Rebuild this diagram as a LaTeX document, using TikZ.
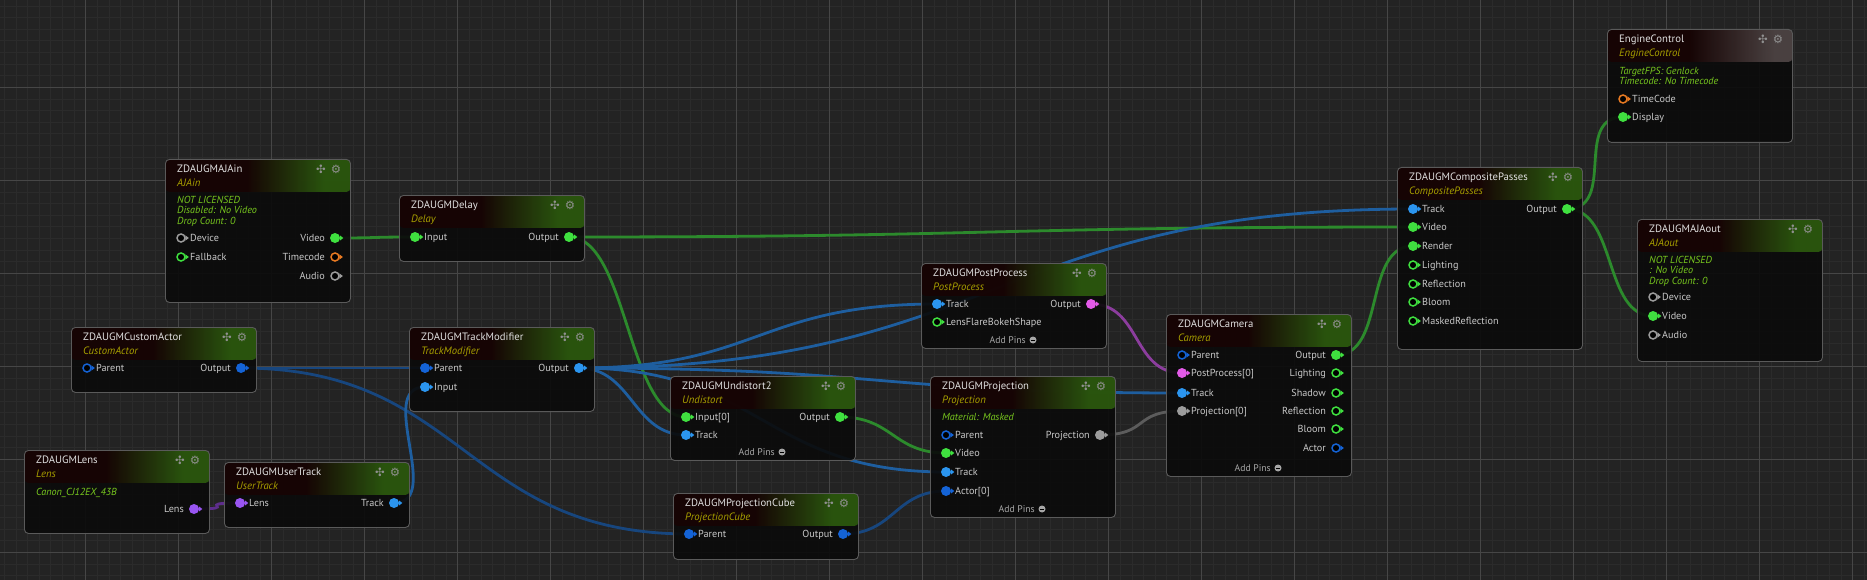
\documentclass[tikz,border=0pt]{standalone}
\usepackage{fontspec}
\setmainfont{PT Sans}
\newfontfamily\symfont{DejaVu Sans}
\usetikzlibrary{calc}

\definecolor{bgcol}{HTML}{232323}
\definecolor{gridminor}{HTML}{2B2B2B}
\definecolor{gridmajor}{HTML}{464646}
\definecolor{bodycol}{HTML}{0B0B0B}
\definecolor{bordcol}{HTML}{5A5A5A}
\definecolor{ttlcol}{HTML}{E0E0E0}
\definecolor{subcol}{HTML}{A8A000}
\definecolor{infocol}{HTML}{78C81E}
\definecolor{labcol}{HTML}{C8C8C8}
\definecolor{iconcol}{HTML}{909090}
\definecolor{addcol}{HTML}{A6A6A6}
\definecolor{hdrA}{HTML}{170404}
\definecolor{hdrB}{HTML}{2C5A0E}
\definecolor{hdrC}{HTML}{4F4545}
\definecolor{pgreen}{HTML}{3FE03F}
\definecolor{plblue}{HTML}{2B95EF}
\definecolor{pdblue}{HTML}{1463D6}
\definecolor{ppurple}{HTML}{9955F2}
\definecolor{pmagenta}{HTML}{E35AE8}
\definecolor{pgrey}{HTML}{9C9C9C}
\definecolor{porange}{HTML}{E87A22}
\definecolor{wgreen}{HTML}{2C8A2C}
\definecolor{wlblue}{HTML}{1E5E9F}
\definecolor{wdblue}{HTML}{17467E}
\definecolor{wpurple}{HTML}{5D2D8C}
\definecolor{wmagenta}{HTML}{8C3D9E}
\definecolor{wgrey}{HTML}{5C5C5C}

\pgfdeclarehorizontalshading{hdrgreen}{100bp}{color(0bp)=(hdrA); color(47bp)=(hdrA); color(68bp)=(hdrB); color(100bp)=(hdrB)}
\pgfdeclarehorizontalshading{hdrgrey}{100bp}{color(0bp)=(hdrA); color(47bp)=(hdrA); color(70bp)=(hdrC); color(100bp)=(hdrC)}

\pgfdeclarelayer{grid}
\pgfdeclarelayer{wires}
\pgfsetlayers{grid,wires,main}

\tikzstyle{blockbody} = [rectangle, anchor=north west,
minimum width=185pt,
inner sep=0pt,
rounded corners=4pt,
draw=bordcol, line width=0.9pt,
fill=bodycol, fill opacity=0.92]
\tikzstyle{ttl} = [anchor=base west, inner sep=0pt, text=ttlcol, font=\fontsize{10.7}{12}\selectfont]
\tikzstyle{sub} = [anchor=base west, inner sep=0pt, text=subcol, font=\fontsize{10.7}{12}\selectfont\itshape]
\tikzstyle{info} = [anchor=base west, inner sep=0pt, text=infocol, font=\fontsize{10.2}{10}\selectfont\itshape]
\tikzstyle{pinlabel} = [inner sep=0pt, text=labcol, font=\fontsize{10.2}{12}\selectfont]
\tikzstyle{icon} = [inner sep=0pt, text=iconcol, font=\symfont\fontsize{11.5}{12}\selectfont]
\tikzstyle{addtext} = [inner sep=0pt, text=addcol, font=\fontsize{9.7}{11}\selectfont]
\tikzstyle{addicon} = [circle, fill=addcol, minimum size=7pt, inner sep=0pt,
path picture={\draw[black, line width=1pt] ([xshift=-2pt]path picture bounding box.center) -- ([xshift=2pt]path picture bounding box.center);}]

\tikzset{
  hdr/.style={path picture={\shade[shading=#1] (path picture bounding box.north west) rectangle ([yshift=-32.5pt]path picture bounding box.north east);}},
  pinfull/.style={circle, fill=#1, minimum size=10pt, inner sep=0pt},
  pinring/.style={circle, draw=#1, line width=1.5pt, fill=black, minimum size=8pt, inner sep=0pt},
  wire/.style={line width=2.8pt, draw=#1, line cap=round,
    to path={let \p1=(\tikztostart), \p2=(\tikztotarget), \n1={max(0.5*abs(\x2-\x1),50)} in
      .. controls ([xshift=\n1]\tikztostart) and ([xshift=-\n1]\tikztotarget) .. (\tikztotarget)}}
}

% block: name, x, y, height, title, subtitle, header shading
\newcommand{\block}[7]{%
  \node[blockbody, minimum height=#4pt, hdr=#7] (#1) at (#2,#3) {};
  \node[ttl] (#1-title) at (#2+12,#3+13.8) {#5};
  \node[sub] (#1-sub) at (#2+12,#3+27.6) {#6};
  \node[icon] (#1-move) at (#2+156,#3+10) {✣};
  \node[icon] (#1-gear) at (#2+171,#3+10) {⚙};
}
% info lines: x, y of first line, list
\newcommand{\info}[3]{%
  \foreach \t [count=\i from 0] in {#3}
    \node[info] at (#1+12,#2+3.6+10.3*\i) {\t};
}
% pins: name, block x, y, full/ring, colour, label
\newcommand{\pinL}[6]{%
  \node[pin#4=#5] (#1) at (#2+16,#3) {};
  \fill[#5] ([xshift=-0.3pt,yshift=2.6pt]#1.east) -- ++(3.4pt,-2.6pt) -- ++(-3.4pt,-2.6pt) -- cycle;
  \node[pinlabel, anchor=base west] at (#2+25,#3+3.6) {#6};
}
\newcommand{\pinR}[6]{%
  \node[pin#4=#5] (#1) at (#2+170,#3) {};
  \fill[#5] ([xshift=-0.3pt,yshift=2.6pt]#1.east) -- ++(3.4pt,-2.6pt) -- ++(-3.4pt,-2.6pt) -- cycle;
  \node[pinlabel, anchor=base east] at (#2+160,#3+3.6) {#6};
}
% add pins: name, block x, y
\newcommand{\addpins}[3]{%
  \node[addtext, anchor=base east] (#1-add) at (#2+105,#3+3.3) {Add Pins};
  \node[addicon] (#1-addicon) at (#2+112,#3) {};
}

\begin{document}
\begin{tikzpicture}[x=1pt,y=-1pt]

\useasboundingbox (0,0) rectangle (1867,580);

\begin{pgfonlayer}{grid}
\fill[bgcol] (0,0) rectangle (1867,580);
\begin{scope}
\clip (0,0) rectangle (1867,580);
\begin{scope}[shift={(85.7,87.3)}]
\draw[gridminor, line width=0.8pt, step=11.625pt] (-93,-93) grid (1800,500);
\draw[gridmajor, line width=0.9pt, step=93pt] (-93,-93) grid (1800,500);
\end{scope}
\end{scope}
\end{pgfonlayer}

% inputs
\block{ajain}{165}{159}{143}{ZDAUGMAJAin}{AJAin}{hdrgreen}
\info{165}{200}{NOT LICENSED, Disabled: No Video, Drop Count: 0}
\pinL{ajain-device}{165}{238}{ring}{pgrey}{Device}
\pinL{ajain-fallback}{165}{257}{ring}{pgreen}{Fallback}
\pinR{ajain-video}{165}{238}{full}{pgreen}{Video}
\pinR{ajain-timecode}{165}{257}{ring}{porange}{Timecode}
\pinR{ajain-audio}{165}{276}{ring}{pgrey}{Audio}

\block{delay}{399}{195}{66}{ZDAUGMDelay}{Delay}{hdrgreen}
\pinL{delay-input}{399}{237}{full}{pgreen}{Input}
\pinR{delay-output}{399}{237}{full}{pgreen}{Output}

\block{ca}{71}{327}{65}{ZDAUGMCustomActor}{CustomActor}{hdrgreen}
\pinL{ca-parent}{71}{368}{ring}{pdblue}{Parent}
\pinR{ca-output}{71}{368}{full}{pdblue}{Output}

\block{tm}{409}{327}{84}{ZDAUGMTrackModifier}{TrackModifier}{hdrgreen}
\pinL{tm-parent}{409}{368}{full}{pdblue}{Parent}
\pinL{tm-input}{409}{387}{full}{plblue}{Input}
\pinR{tm-output}{409}{368}{full}{plblue}{Output}

\block{lens}{24}{450}{83}{ZDAUGMLens}{Lens}{hdrgreen}
\info{24}{492}{Canon\_CJ12EX\_43B}
\pinR{lens-lens}{24}{509}{full}{ppurple}{Lens}

\block{ut}{224}{462}{65}{ZDAUGMUserTrack}{UserTrack}{hdrgreen}
\pinL{ut-lens}{224}{503}{full}{ppurple}{Lens}
\pinR{ut-track}{224}{503}{full}{plblue}{Track}

% processing
\block{und}{670}{376}{84}{ZDAUGMUndistort2}{Undistort}{hdrgreen}
\pinL{und-input}{670}{417}{full}{pgreen}{Input[0]}
\pinL{und-track}{670}{435}{full}{plblue}{Track}
\pinR{und-output}{670}{417}{full}{pgreen}{Output}
\addpins{und}{670}{452}

\block{pc}{673}{493}{66}{ZDAUGMProjectionCube}{ProjectionCube}{hdrgreen}
\pinL{pc-parent}{673}{534}{full}{pdblue}{Parent}
\pinR{pc-output}{673}{534}{full}{pdblue}{Output}

\block{pp}{921}{263}{85}{ZDAUGMPostProcess}{PostProcess}{hdrgreen}
\pinL{pp-track}{921}{304}{full}{plblue}{Track}
\pinL{pp-lensflare}{921}{322}{ring}{pgreen}{LensFlareBokehShape}
\pinR{pp-output}{921}{304}{full}{pmagenta}{Output}
\addpins{pp}{921}{340}

\block{proj}{930}{376}{141}{ZDAUGMProjection}{Projection}{hdrgreen}
\info{930}{417}{Material: Masked}
\pinL{proj-parent}{930}{435}{ring}{pdblue}{Parent}
\pinL{proj-video}{930}{453}{full}{pgreen}{Video}
\pinL{proj-track}{930}{472}{full}{plblue}{Track}
\pinL{proj-actor}{930}{491}{full}{pdblue}{Actor[0]}
\pinR{proj-projection}{930}{435}{full}{pgrey}{Projection}
\addpins{proj}{930}{509}

\block{cam}{1166}{314}{162}{ZDAUGMCamera}{Camera}{hdrgreen}
\pinL{cam-parent}{1166}{355}{ring}{pdblue}{Parent}
\pinL{cam-postprocess}{1166}{373}{full}{pmagenta}{PostProcess[0]}
\pinL{cam-track}{1166}{393}{full}{plblue}{Track}
\pinL{cam-projection}{1166}{411}{full}{pgrey}{Projection[0]}
\pinR{cam-output}{1166}{355}{full}{pgreen}{Output}
\pinR{cam-lighting}{1166}{373}{ring}{pgreen}{Lighting}
\pinR{cam-shadow}{1166}{393}{ring}{pgreen}{Shadow}
\pinR{cam-reflection}{1166}{411}{ring}{pgreen}{Reflection}
\pinR{cam-bloom}{1166}{429}{ring}{pgreen}{Bloom}
\pinR{cam-actor}{1166}{448}{ring}{pdblue}{Actor}
\addpins{cam}{1166}{468}

% outputs
\block{comp}{1397}{167}{182}{ZDAUGMCompositePasses}{CompositePasses}{hdrgreen}
\pinL{comp-track}{1397}{209}{full}{plblue}{Track}
\pinL{comp-video}{1397}{227}{full}{pgreen}{Video}
\pinL{comp-render}{1397}{246}{full}{pgreen}{Render}
\pinL{comp-lighting}{1397}{265}{ring}{pgreen}{Lighting}
\pinL{comp-reflection}{1397}{284}{ring}{pgreen}{Reflection}
\pinL{comp-bloom}{1397}{302}{ring}{pgreen}{Bloom}
\pinL{comp-masked}{1397}{321}{ring}{pgreen}{MaskedReflection}
\pinR{comp-output}{1397}{209}{full}{pgreen}{Output}

\block{ajaout}{1637}{219}{142}{ZDAUGMAJAout}{AJAout}{hdrgreen}
\info{1637}{260}{NOT LICENSED, : No Video, Drop Count: 0}
\pinL{ajaout-device}{1637}{297}{ring}{pgrey}{Device}
\pinL{ajaout-video}{1637}{316}{full}{pgreen}{Video}
\pinL{ajaout-audio}{1637}{335}{ring}{pgrey}{Audio}

\block{ec}{1607}{29}{113}{EngineControl}{EngineControl}{hdrgrey}
\info{1607}{71}{TargetFPS: Genlock, Timecode: No Timecode}
\pinL{ec-timecode}{1607}{99}{ring}{porange}{TimeCode}
\pinL{ec-display}{1607}{117}{full}{pgreen}{Display}

% links
\begin{pgfonlayer}{wires}
\draw[wire=wgreen] (ajain-video.center) to (delay-input.center);
\draw[wire=wgreen] (delay-output.center) to (comp-video.center);
\draw[wire=wgreen] (delay-output.center) to (und-input.center);
\draw[wire=wdblue] (ca-output.center) to (tm-parent.center);
\draw[wire=wdblue] (ca-output.center) to (pc-parent.center);
\draw[wire=wlblue] (ut-track.center) to (tm-input.center);
\draw[wire=wpurple] (lens-lens.center) to (ut-lens.center);
\draw[wire=wlblue] (tm-output.center) to (pp-track.center);
\draw[wire=wlblue] (tm-output.center) to (comp-track.center);
\draw[wire=wlblue] (tm-output.center) to (und-track.center);
\draw[wire=wlblue] (tm-output.center) to (proj-track.center);
\draw[wire=wlblue] (tm-output.center) to (cam-track.center);
\draw[wire=wgreen] (und-output.center) to (proj-video.center);
\draw[wire=wdblue] (pc-output.center) to (proj-actor.center);
\draw[wire=wgrey] (proj-projection.center) to (cam-projection.center);
\draw[wire=wmagenta] (pp-output.center) to (cam-postprocess.center);
\draw[wire=wgreen] (cam-output.center) to (comp-render.center);
\draw[wire=wgreen] (comp-output.center) to (ec-display.center);
\draw[wire=wgreen] (comp-output.center) to (ajaout-video.center);
\end{pgfonlayer}

\end{tikzpicture}
\end{document}
